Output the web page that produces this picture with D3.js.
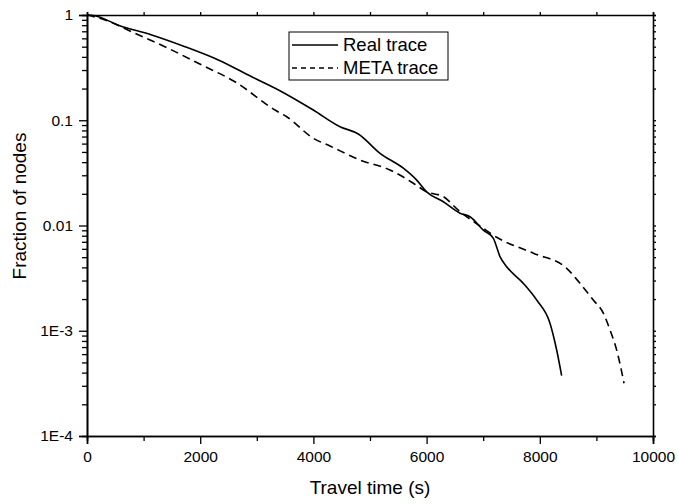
<!doctype html>
<html lang="en">
<head>
  <meta charset="utf-8">
  <title>Travel time distribution</title>
  <script src="https://cdn.jsdelivr.net/npm/d3@7"></script>
  <style>
    body { margin: 0; background: #fff; }
    text { font-family: Arial, "Liberation Sans", sans-serif; fill: #000; }
  </style>
</head>
<body>
<div id="container"></div>
<script>
  // Data: travel time (s) vs fraction of nodes
  const realTime = [0, 141, 553, 1143, 1731, 2320, 2910, 3400, 3999, 4470, 4794, 5177, 5589, 5825, 6001, 6296, 6590, 6767, 7002, 7179, 7297, 7415, 7709, 7945, 8180, 8298, 8386];
  const realFrac = [1, 0.985, 0.80, 0.646, 0.50, 0.374, 0.259, 0.192, 0.125, 0.0869, 0.074, 0.0485, 0.035, 0.027, 0.0209, 0.0168, 0.0131, 0.0121, 0.00905, 0.00755, 0.00506, 0.00406, 0.00282, 0.00196, 0.00118, 0.000656, 0.000374];

  const metaTime = [0, 318, 848, 1437, 2026, 2615, 3322, 3528, 3999, 4293, 4823, 5353, 5766, 6001, 6296, 6561, 7002, 7238, 7886, 8475, 8710, 8945, 9122, 9240, 9358, 9488];
  const metaFrac = [1, 0.897, 0.67, 0.482, 0.335, 0.232, 0.125, 0.108, 0.0674, 0.0569, 0.0419, 0.0337, 0.0252, 0.0209, 0.0188, 0.0140, 0.0094, 0.00773, 0.00545, 0.00392, 0.00282, 0.00196, 0.00147, 0.00102, 0.000656, 0.000317];

  const xTicks = [0, 2000, 4000, 6000, 8000, 10000];
  const yTicks = [1, 0.1, 0.01, 1e-3, 1e-4];
  const yTickLabels = ['1', '0.1', '0.01', '1E-3', '1E-4'];
  const seriesNames = ['Real trace', 'META trace'];

  const W = 678, H = 504;
  const margin = { top: 15, right: 25, bottom: 68, left: 87 };
  const width = W - margin.left - margin.right,
    height = H - margin.top - margin.bottom;

  const svg = d3.select('#container')
    .append('svg')
    .attr('width', W)
    .attr('height', H);
  const g = svg.append('g')
    .attr('transform', `translate(${margin.left},${margin.top})`);

  const x = d3.scaleLinear().domain([0, 10000]).range([0, width]);
  const y = d3.scaleLog().domain([1e-4, 1]).range([height, 0]);

  // minor ticks
  const xMinor = d3.range(1000, 10000, 2000);
  const yMinor = [];
  for (let e = -4; e < 0; e++) for (let k = 2; k < 10; k++) yMinor.push(k * Math.pow(10, e));

  // bottom axis
  g.append('g')
    .attr('transform', `translate(0,${height})`)
    .call(d3.axisBottom(x).tickValues(xTicks).tickSize(8).tickPadding(7).tickFormat(d3.format('d')))
    .call(a => a.selectAll('text').style('font-size', '15.5px'));
  g.append('g')
    .attr('transform', `translate(0,${height})`)
    .call(d3.axisBottom(x).tickValues(xMinor).tickSize(5).tickFormat(''));

  // left axis
  g.append('g')
    .call(d3.axisLeft(y).tickValues(yTicks).tickSize(8).tickPadding(6)
      .tickFormat((d, i) => yTickLabels[i]))
    .call(a => a.selectAll('text').style('font-size', '15.5px'));
  g.append('g')
    .call(d3.axisLeft(y).tickValues(yMinor).tickSize(5).tickFormat(''));

  // top and right mirror axes
  g.append('g')
    .call(d3.axisTop(x).tickValues(xTicks.concat(xMinor)).tickSize(3).tickFormat(''));
  g.append('g')
    .attr('transform', `translate(${width},0)`)
    .call(d3.axisRight(y).tickValues(yTicks.concat(yMinor)).tickSize(3).tickFormat(''));

  g.selectAll('.domain').attr('stroke', '#000').attr('stroke-width', 1.6);
  g.selectAll('.tick line').attr('stroke', '#000').attr('stroke-width', 1.3);

  // curves
  const line = d3.line()
    .x(d => x(d[0]))
    .y(d => y(d[1]))
    .curve(d3.curveMonotoneX);

  const realData = d3.zip(realTime, realFrac);
  const metaData = d3.zip(metaTime, metaFrac);

  g.append('path')
    .datum(realData)
    .attr('d', line)
    .attr('fill', 'none')
    .attr('stroke', '#000')
    .attr('stroke-width', 1.6);

  g.append('path')
    .datum(metaData)
    .attr('d', line)
    .attr('fill', 'none')
    .attr('stroke', '#000')
    .attr('stroke-width', 1.6)
    .attr('stroke-dasharray', '8,5');

  // axis titles
  svg.append('text')
    .attr('x', margin.left + width / 2)
    .attr('y', 494)
    .attr('text-anchor', 'middle')
    .style('font-size', '19px')
    .text('Travel time (s)');

  svg.append('text')
    .attr('transform', 'translate(26,206) rotate(-90)')
    .attr('text-anchor', 'middle')
    .style('font-size', '19px')
    .text('Fraction of nodes');

  // legend
  const legend = svg.append('g').attr('transform', 'translate(289,32)');
  legend.append('rect')
    .attr('width', 159).attr('height', 48)
    .attr('fill', '#fff').attr('stroke', '#000').attr('stroke-width', 1);
  seriesNames.forEach((name, i) => {
    const ly = 13 + i * 23;
    legend.append('line')
      .attr('x1', 3).attr('x2', 49).attr('y1', ly).attr('y2', ly)
      .attr('stroke', '#000').attr('stroke-width', 1.5)
      .attr('stroke-dasharray', i ? '5,4' : null);
    legend.append('text')
      .attr('x', 54).attr('y', ly + 6)
      .style('font-size', '18.5px')
      .text(name);
  });
</script>
</body>
</html>
